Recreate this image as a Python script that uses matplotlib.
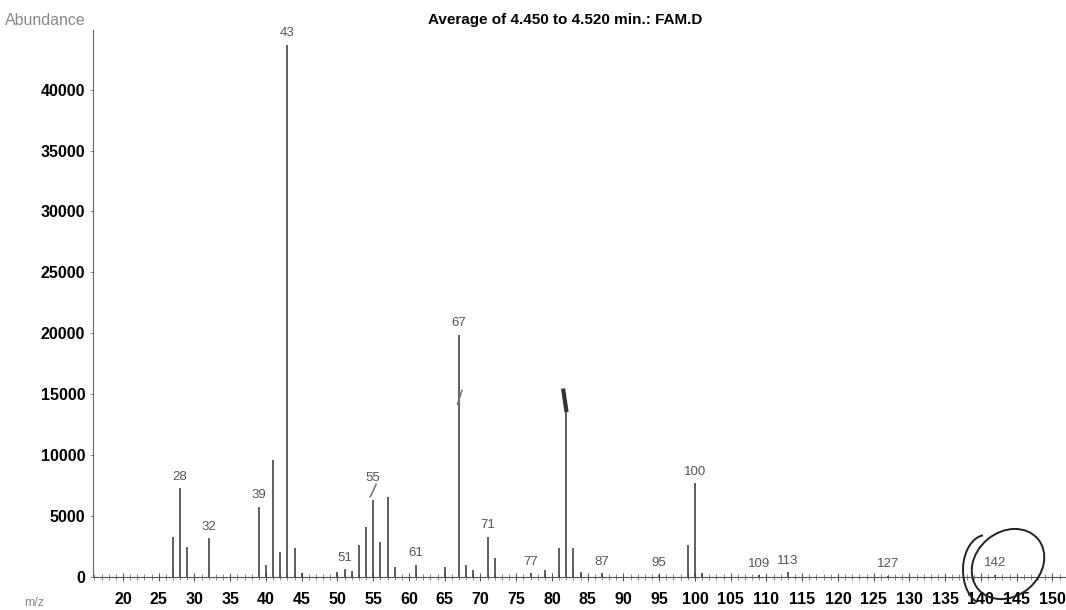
import matplotlib
matplotlib.use('Agg')
import matplotlib.pyplot as plt
from matplotlib.patches import Ellipse, Arc
import numpy as np

plt.rcParams['font.family'] = ['Liberation Sans', 'DejaVu Sans']

mz = [27, 28, 29, 32, 39, 40, 41, 42, 43, 44, 45, 50, 51, 52, 53, 54, 55, 56, 57, 58,
      61, 65, 67, 68, 69, 71, 72, 77, 79, 81, 82, 83, 84, 87, 95, 99, 100, 101,
      109, 113, 127, 142]
abund = [3300, 7300, 2450, 3200, 5750, 1000, 9600, 2050, 43700, 2400, 300, 400, 650, 500,
         2600, 4100, 6300, 2850, 6600, 800, 1000, 800, 19900, 1000, 550, 3300, 1550,
         300, 600, 2350, 14500, 2400, 400, 300, 200, 2600, 7700, 300,
         150, 400, 100, 200]

# picos rotulados
rotulos = [28, 32, 39, 43, 51, 55, 61, 67, 71, 77, 87, 95, 100, 109, 113, 127, 142]

yticks = [0, 5000, 10000, 15000, 20000, 25000, 30000, 35000, 40000]
xticks = list(range(20, 151, 5))

fig = plt.figure(figsize=(10.66, 6.1), dpi=100)
ax = fig.add_axes([0.0872, 0.054, 0.9128, 0.897])

ax.vlines(mz, 0, abund, color='#333333', linewidth=1.1)

for m in rotulos:
    h = abund[mz.index(m)]
    desl = 12 if m == 55 else 4  # o 55 fica acima do risco a mao
    ax.annotate(str(m), (m, h), xytext=(0, desl), textcoords='offset points',
                ha='center', va='bottom', fontsize=9.5, color='#555555')

ax.set_xlim(15.8, 151.9)
ax.set_ylim(0, 44900)

ax.spines['right'].set_color('none')
ax.spines['top'].set_color('none')
ax.spines['left'].set_color('#666666')
ax.spines['bottom'].set_color('#555555')

ax.set_xticks(xticks)
ax.set_xticks(range(16, 152), minor=True)
ax.set_yticks(yticks)
ax.tick_params(axis='x', direction='inout', length=6, width=0.8, pad=8, colors='#555555',
               labelcolor='black', labelsize=11.5)
ax.tick_params(axis='x', which='minor', direction='inout', length=4, width=0.6, colors='#777777')
ax.tick_params(axis='y', direction='out', length=2, width=0.6, colors='#777777',
               labelcolor='black', labelsize=11.5)
for t in ax.get_xticklabels() + ax.get_yticklabels():
    t.set_fontweight('bold')

fig.text(0.005, 0.967, 'Abundance', fontsize=11.5, color='#888888', ha='left', va='center')
fig.text(0.023, 0.012, 'm/z', fontsize=9, color='#888888', ha='left', va='center')
fig.text(0.53, 0.968, 'Average of 4.450 to 4.520 min.: FAM.D', fontsize=11,
         fontweight='bold', ha='center', va='center')

# marcas feitas a mao no papel (em polegadas da figura)
fig.add_artist(Ellipse((10.08, 0.46), 0.78, 0.64, angle=40, fill=False,
                       edgecolor='#222222', linewidth=1.4, transform=fig.dpi_scale_trans))
fig.add_artist(Arc((9.86, 0.40), 0.46, 0.70, theta1=95, theta2=255,
                   edgecolor='#222222', linewidth=1.4, transform=fig.dpi_scale_trans))
ax.plot([81.6, 82.0], [15300, 13700], color='#333333', linewidth=3)
ax.plot([66.8, 67.4], [14200, 15300], color='#777777', linewidth=1.2)
ax.plot([54.6, 55.4], [6600, 7600], color='#777777', linewidth=1.2)

fig.savefig('out.png', dpi=100)
